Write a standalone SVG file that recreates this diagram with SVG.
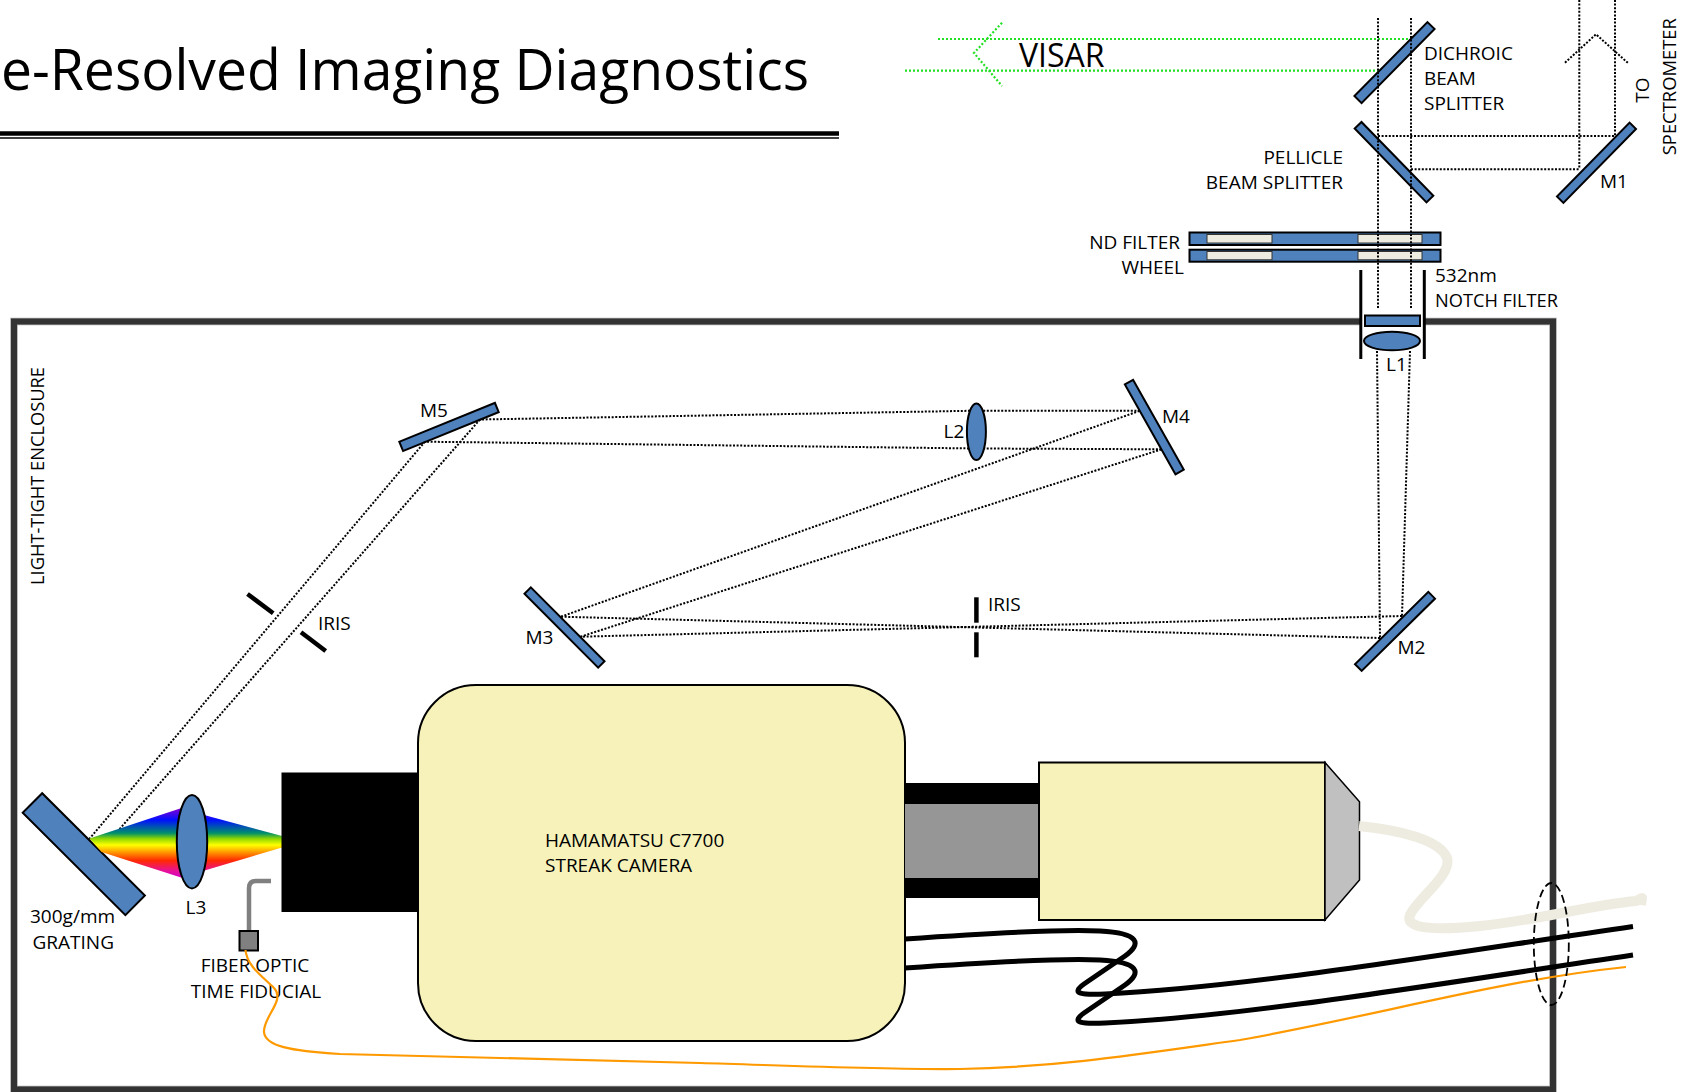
<svg xmlns="http://www.w3.org/2000/svg" width="1688" height="1092" viewBox="0 0 1688 1092">
  <style>
    text { font-family: "Open Sans", "Liberation Sans", sans-serif; fill: #000; }
    .lbl { font-size: 19px; }
    .optic { fill: #4f81bd; stroke: #000; stroke-width: 2; }
    .beam { fill: none; stroke: #000; stroke-width: 2; stroke-dasharray: 2 1.6; }
    .vis { fill: none; stroke: #22e022; stroke-width: 2.2; stroke-dasharray: 2 2; }
    .iris { stroke: #000; stroke-width: 4.5; }
    .body { fill: #f6f2ba; stroke: #000; stroke-width: 2; }
    .cable { fill: none; stroke: #000; stroke-width: 5; }
  </style>
  <defs>
    <linearGradient id="spectrum" gradientUnits="userSpaceOnUse" x1="0" y1="808" x2="0" y2="878">
      <stop offset="0" stop-color="#8a00d0"/>
      <stop offset="0.17" stop-color="#0010ff"/>
      <stop offset="0.36" stop-color="#00906a"/>
      <stop offset="0.44" stop-color="#90d800"/>
      <stop offset="0.53" stop-color="#ffff00"/>
      <stop offset="0.63" stop-color="#ff9900"/>
      <stop offset="0.75" stop-color="#ff2a00"/>
      <stop offset="0.9" stop-color="#e8109a"/>
      <stop offset="1" stop-color="#d000c8"/>
    </linearGradient>
  </defs>

  <rect width="1688" height="1092" fill="#fff"/>

  <!-- title and rule -->
  <g id="title">
    <text x="1" y="89.5" font-size="56" textLength="808" lengthAdjust="spacingAndGlyphs">e-Resolved Imaging Diagnostics</text>
    <line x1="0" y1="133.5" x2="839" y2="133.5" stroke="#000" stroke-width="4.5"/>
    <line x1="0" y1="138" x2="839" y2="138" stroke="#000" stroke-width="1.5"/>
  </g>

  <!-- enclosure wall, open where the input tube passes -->
  <g id="enclosure">
    <path d="M1361,321.5 H14 V1089.5 H1553 V321.5 H1424" fill="none" stroke="#a8a8a8" stroke-width="7.5"/>
    <path d="M1361,321.5 H14 V1089.5 H1553 V321.5 H1424" fill="none" stroke="#333" stroke-width="6"/>
    <text class="lbl" transform="translate(43.5,585) rotate(-90)" textLength="218" lengthAdjust="spacingAndGlyphs">LIGHT-TIGHT ENCLOSURE</text>
  </g>

  <!-- VISAR output -->
  <g id="visar">
    <line class="vis" x1="938" y1="39" x2="1411" y2="39"/>
    <line class="vis" x1="905" y1="70.7" x2="1378" y2="70.7"/>
    <polyline class="vis" points="1002,22.7 974,53 1002,86"/>
    <text x="1019" y="66.7" font-size="32">VISAR</text>
  </g>

  <g id="dichroic">
    <rect class="optic" x="-52" y="-5" width="104" height="10" transform="translate(1394.5,62.6) rotate(-45.4)"/>
    <text class="lbl" x="1424" y="60">DICHROIC</text>
    <text class="lbl" x="1424" y="85">BEAM</text>
    <text class="lbl" x="1424" y="110">SPLITTER</text>
  </g>

  <g id="pellicle">
    <rect class="optic" x="-51.5" y="-4.75" width="103" height="9.5" transform="translate(1394,162.2) rotate(45.8)"/>
    <text class="lbl" x="1343" y="164" text-anchor="end">PELLICLE</text>
    <text class="lbl" x="1343" y="189" text-anchor="end">BEAM SPLITTER</text>
  </g>

  <g id="m1">
    <rect class="optic" x="-51.8" y="-4.5" width="103.6" height="9" transform="translate(1596.5,162.8) rotate(-45.5)"/>
    <text class="lbl" x="1600" y="187.5">M1</text>
  </g>

  <g id="spectrometer-label">
    <text class="lbl" transform="translate(1649.3,90) rotate(-90)" text-anchor="middle">TO</text>
    <text class="lbl" transform="translate(1676,86.7) rotate(-90)" text-anchor="middle" textLength="137" lengthAdjust="spacingAndGlyphs">SPECTROMETER</text>
  </g>

  <g id="nd-filter-wheel">
    <rect class="optic" x="1189.5" y="232.5" width="251" height="12.5"/>
    <rect x="1207" y="234.5" width="65" height="8.5" fill="#eeece1" stroke="#333" stroke-width="1"/>
    <rect x="1358" y="234.5" width="64" height="8.5" fill="#eeece1" stroke="#333" stroke-width="1"/>
    <rect class="optic" x="1189.5" y="249.7" width="251" height="12"/>
    <rect x="1207" y="251.5" width="65" height="8.3" fill="#eeece1" stroke="#333" stroke-width="1"/>
    <rect x="1358" y="251.5" width="64" height="8.3" fill="#eeece1" stroke="#333" stroke-width="1"/>
    <text class="lbl" x="1180" y="249" text-anchor="end">ND FILTER</text>
    <text class="lbl" x="1184" y="274" text-anchor="end">WHEEL</text>
  </g>

  <g id="notch-filter-l1">
    <line x1="1360.8" y1="270" x2="1360.8" y2="359" stroke="#000" stroke-width="3"/>
    <line x1="1424.3" y1="270" x2="1424.3" y2="359" stroke="#000" stroke-width="3"/>
    <rect class="optic" x="1365" y="315.5" width="55" height="10.5"/>
    <ellipse class="optic" cx="1392" cy="341" rx="28" ry="9.3"/>
    <text class="lbl" x="1435" y="282">532nm</text>
    <text class="lbl" x="1435" y="307" textLength="123" lengthAdjust="spacingAndGlyphs">NOTCH FILTER</text>
    <text class="lbl" x="1386" y="370.7">L1</text>
  </g>

  <g id="m2">
    <rect class="optic" x="-51.5" y="-4.75" width="103" height="9.5" transform="translate(1395,631.4) rotate(-44.6)"/>
    <text class="lbl" x="1397.5" y="654.3">M2</text>
  </g>

  <g id="iris-2">
    <line class="iris" x1="976.4" y1="597.3" x2="976.4" y2="622.7"/>
    <line class="iris" x1="976.4" y1="632.3" x2="976.4" y2="657.3"/>
    <text class="lbl" x="988" y="610.5">IRIS</text>
  </g>

  <g id="m3">
    <rect class="optic" x="-52.2" y="-4.5" width="104.4" height="9" transform="translate(564.5,627.5) rotate(45.1)"/>
    <text class="lbl" x="525.5" y="644">M3</text>
  </g>

  <g id="m4">
    <rect class="optic" x="-51.6" y="-4.75" width="103.2" height="9.5" transform="translate(1154.3,427.1) rotate(60.6)"/>
    <text class="lbl" x="1162" y="423.3">M4</text>
  </g>

  <g id="l2">
    <ellipse class="optic" cx="976.4" cy="431.7" rx="9.5" ry="28.3"/>
    <text class="lbl" x="943.5" y="438.3">L2</text>
  </g>

  <g id="m5">
    <rect class="optic" x="-51.6" y="-5" width="103.2" height="10" transform="translate(449,426.9) rotate(-22.1)"/>
    <text class="lbl" x="420" y="416.7">M5</text>
  </g>

  <g id="iris-1">
    <line class="iris" x1="247.5" y1="594" x2="273.2" y2="613.3"/>
    <line class="iris" x1="301" y1="632.3" x2="325.7" y2="651"/>
    <text class="lbl" x="318" y="630.4">IRIS</text>
  </g>

  <!-- beam paths -->
  <g id="beams">
    <line class="beam" x1="1378" y1="18" x2="1378" y2="309"/>
    <line class="beam" x1="1411" y1="18" x2="1411" y2="309"/>
    <line class="beam" x1="1378" y1="136" x2="1615" y2="136"/>
    <line class="beam" x1="1411" y1="169.3" x2="1579.3" y2="169.3"/>
    <line class="beam" x1="1579.3" y1="0" x2="1579.3" y2="169.3"/>
    <line class="beam" x1="1615" y1="0" x2="1615" y2="136"/>
    <polyline class="beam" points="1565,62.7 1596,34.3 1628.3,63.3"/>
    <line class="beam" x1="1377" y1="351" x2="1380" y2="638"/>
    <line class="beam" x1="1410" y1="351" x2="1402" y2="616"/>
    <line class="beam" x1="1380" y1="638" x2="561" y2="616.7"/>
    <line class="beam" x1="1402" y1="616" x2="580.5" y2="636.7"/>
    <line class="beam" x1="561" y1="616.7" x2="1140" y2="410.7"/>
    <line class="beam" x1="580.5" y1="636.7" x2="1161.5" y2="449.3"/>
    <line class="beam" x1="1140" y1="410.7" x2="983" y2="410.7"/>
    <line class="beam" x1="970" y1="410.8" x2="480" y2="419.5"/>
    <line class="beam" x1="1161.5" y1="449.3" x2="984" y2="448.5"/>
    <line class="beam" x1="969" y1="448.4" x2="425" y2="441.7"/>
    <line class="beam" x1="425" y1="441.7" x2="89.3" y2="839"/>
    <line class="beam" x1="480" y1="419.5" x2="119.3" y2="829.3"/>
  </g>

  <g id="grating">
    <rect class="optic" x="-72.5" y="-13.8" width="145" height="27.6" transform="translate(83.8,854.2) rotate(44.9)"/>
    <text class="lbl" x="30" y="923.3">300g/mm</text>
    <text class="lbl" x="32.5" y="949">GRATING</text>
  </g>

  <g id="spectrum-fan">
    <polygon points="89.5,838.5 180,808.5 282,836 282,847.5 181,877.5 101.5,852" fill="url(#spectrum)"/>
  </g>

  <g id="l3">
    <ellipse class="optic" cx="192" cy="841.7" rx="15.2" ry="46.7"/>
    <text class="lbl" x="185.5" y="913.5">L3</text>
  </g>

  <g id="streak-camera">
    <rect x="281.5" y="772.5" width="140" height="139.5" fill="#000"/>
    <rect class="body" x="418" y="685" width="487" height="356" rx="58" ry="58"/>
    <rect x="905" y="783" width="135" height="115" fill="#000"/>
    <rect x="905" y="804" width="135" height="74" fill="#969696"/>
    <text class="lbl" x="545" y="846.5">HAMAMATSU C7700</text>
    <text class="lbl" x="545" y="872">STREAK CAMERA</text>
  </g>

  <g id="readout">
    <rect class="body" x="1039" y="762.5" width="286" height="157.5"/>
    <polygon points="1325,762.5 1359.5,801.7 1359.5,880 1325,920" fill="#c0c0c0" stroke="#000" stroke-width="1.5"/>
  </g>

  <g id="fiducial">
    <path d="M271,881 H256 Q249,881 249,888 V931" fill="none" stroke="#808080" stroke-width="4.5"/>
    <rect x="239.5" y="931" width="18.5" height="19.5" fill="#808080" stroke="#000" stroke-width="2"/>
    <text class="lbl" x="255" y="972" text-anchor="middle">FIBER OPTIC</text>
    <text class="lbl" x="256" y="997.5" text-anchor="middle">TIME FIDUCIAL</text>
  </g>

  <!-- cables leaving the enclosure -->
  <g id="cables">
    <path d="M245.5,950 C247,966 262,976 274,988 C286,1000 263,1017 264,1032 C265,1046 290,1051 340,1054 L700,1063 C800,1066 900,1070 960,1069 C1060,1067 1140,1054 1240,1040 C1380,1015 1500,980 1626,967" fill="none" stroke="#ff9900" stroke-width="2.2"/>
    <path class="cable" d="M905,939 C990,933 1060,929 1100,931 C1140,933 1142,944 1125,956 L1084,984 C1070,994 1082,995 1105,994 C1250,987 1450,953 1633,926.5"/>
    <path class="cable" d="M905,968 C990,962 1060,958 1100,960 C1140,962 1142,973 1125,985 L1084,1013 C1070,1023 1082,1024 1105,1023 C1250,1016 1450,982 1633,955"/>
    <path d="M1359,826 C1400,830 1440,840 1447,858 C1452,875 1418,898 1410,915 C1404,930 1440,930 1480,926 C1540,920 1590,905 1636,901 L1642,898 L1641,905" fill="none" stroke="#eeece1" stroke-width="10" stroke-linejoin="round"/>
    <ellipse cx="1551.3" cy="944" rx="17.5" ry="61" fill="none" stroke="#000" stroke-width="1.8" stroke-dasharray="8 4"/>
  </g>
</svg>
